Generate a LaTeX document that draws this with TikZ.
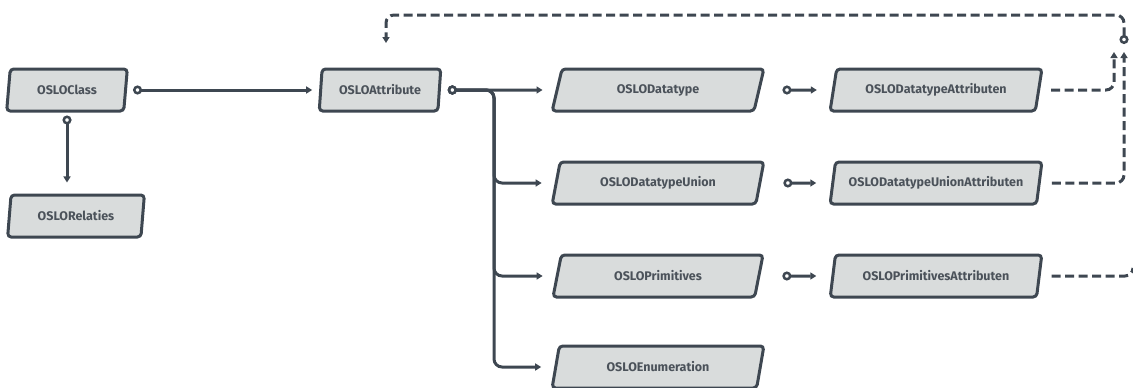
\documentclass[tikz,border=0pt]{standalone}
\usepackage{fontspec}
\setsansfont{Fira Sans}
\usetikzlibrary{shapes.geometric,arrows.meta}
\definecolor{oslodark}{HTML}{3E4751}
\definecolor{oslofill}{HTML}{D9DCDC}
\definecolor{oslotext}{HTML}{4B525A}

\begin{document}
\begin{tikzpicture}[x=1pt, y=-1pt,
    base/.style={trapezium, trapezium stretches=true, draw=oslodark, fill=oslofill,
        line width=3pt, rounded corners=3.5pt, minimum height=42pt, inner sep=0pt,
        font=\sffamily\bfseries\fontsize{12.5}{14}\selectfont, text=oslotext},
    smallbox/.style={base, trapezium left angle=79, trapezium right angle=101, minimum width=#1},
    widebox/.style={base, trapezium left angle=70, trapezium right angle=110, minimum width=212pt},
    link/.style={draw=oslodark, line width=3pt,
        {Circle[length=9pt, fill=white, line width=2.5pt]}-{Triangle[length=6pt, width=7pt]}},
    dashlink/.style={draw=oslodark, line width=3pt, dash pattern=on 9pt off 4.5pt,
        rounded corners=8pt, -{Triangle[length=6pt, width=7pt]}},
]
    \useasboundingbox (0,0) rectangle (1133,388);

    \node[smallbox=121pt] (class) at (67,90) {OSLOClass};
    \node[smallbox=137pt] (relaties) at (76,216) {OSLORelaties};
    \node[smallbox=122pt] (attribute) at (380,90) {OSLOAttribute};

    \node[widebox] (datatype) at (658,90) {OSLODatatype};
    \node[widebox] (union) at (658,183) {OSLODatatypeUnion};
    \node[widebox] (prim) at (658,276) {OSLOPrimitives};
    \node[widebox] (enum) at (658,367) {OSLOEnumeration};

    \node[widebox] (datatypeattr) at (936,90) {OSLODatatypeAttributen};
    \node[widebox] (unionattr) at (936,183) {OSLODatatypeUnionAttributen};
    \node[widebox] (primattr) at (936,276) {OSLOPrimitivesAttributen};

    \coordinate (fork) at (494,90);
    \coordinate (hubin1) at (1114,52);
    \coordinate (hubin2) at (1124,52);
    \coordinate (hub) at (1124,44);
    \coordinate (roof) at (1124,15);
    \coordinate (attrin) at (386,43);
    \coordinate (exit) at (1133,268);

    \draw[link, shorten <=6pt, shorten >=7pt] (class) -- (attribute);
    \draw[link, shorten <=3pt, shorten >=11pt] (class.south) -- (class.south |- relaties.north);

    \draw[link, shorten <=7pt, shorten >=13pt] (attribute.east) -- (datatype.west);
    \foreach \target in {union, prim, enum}
        \draw[link, rounded corners=8pt, shorten <=7pt, shorten >=13pt]
            (attribute.east) -- (fork) |- (\target.west);

    \foreach \source/\target in {datatype/datatypeattr, union/unionattr, prim/primattr}
        \draw[link, shorten <=22pt, shorten >=15pt] (\source.east) -- (\target.west);

    \draw[dashlink, shorten <=11pt] (datatypeattr.east) -| (hubin1);
    \draw[dashlink, shorten <=11pt] (unionattr.east) -| (hubin2);
    \draw[dashlink, -, shorten <=11pt] (primattr.east) -| (exit);
    \draw[dashlink, {Circle[length=9pt, fill=white, line width=2.5pt]}-{Triangle[length=6pt, width=7pt]}]
        (hub) -- (roof) -| (attrin);
\end{tikzpicture}
\end{document}
